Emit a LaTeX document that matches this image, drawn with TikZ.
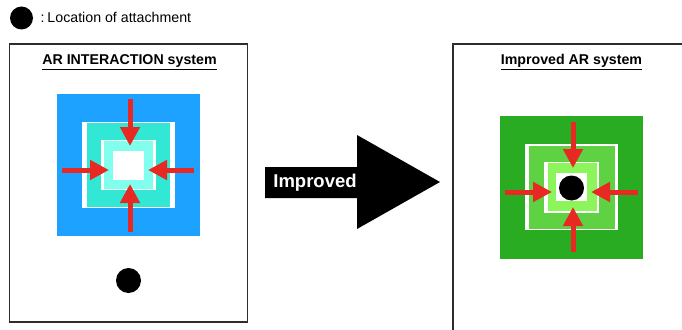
\documentclass[tikz,border=0pt]{standalone}
\usepackage{fontspec}
\setmainfont{Liberation Sans}
\usetikzlibrary{arrows.meta}

\definecolor{skyblue}{RGB}{30,162,255}
\definecolor{teal1}{RGB}{50,232,212}
\definecolor{teal2}{RGB}{128,255,238}
\definecolor{grn1}{RGB}{42,172,34}
\definecolor{grn2}{RGB}{95,210,68}
\definecolor{grn3}{RGB}{140,245,92}
\definecolor{arrowred}{RGB}{232,40,35}
\definecolor{framegray}{RGB}{45,45,45}

\tikzset{
  sq/.style={rectangle, inner sep=0pt, outer sep=0pt, draw=none},
  panel/.style={sq, draw=framegray, line width=1.5pt, fill=white},
  push/.style={draw=arrowred, line width=5pt,
    -{Triangle[length=19pt,width=19pt]}, arrowred},
  title/.style={font=\bfseries\fontsize{14.2}{17}\selectfont, anchor=base},
  dot/.style={circle, fill=black, inner sep=0pt},
}

\begin{document}
\begin{tikzpicture}[x=1pt, y=-1pt]
\useasboundingbox (0,0) rectangle (682,329);
\clip (0,0) rectangle (682,329);

% legend
\node[dot, minimum size=23pt] (legdot) at (21.5,18) {};
\node[anchor=base west, font=\fontsize{14.2}{17}\selectfont, inner sep=0pt]
  (legtext) at (40.5,23) {:\hspace{0.2em}Location of attachment};

% ---------- left panel ----------
\node[panel, minimum width=238pt, minimum height=278pt]
  (leftpanel) at (128.5,183) {};
\node[title] (lefttitle) at (129.5,64.5) {\underline{AR INTERACTION system}};

\node[sq, fill=skyblue, minimum width=143pt, minimum height=142pt] (lblue) at (128.5,165) {};
\node[sq, fill=white, minimum width=93pt, minimum height=86pt] (lframe) at (128.5,165) {};
\node[sq, fill=teal1, minimum width=83pt, minimum height=84pt] (lteal) at (128.5,165) {};
\node[sq, fill=white, minimum width=55pt, minimum height=50pt] (linframe) at (128.5,165) {};
\node[sq, fill=teal2, minimum width=49pt, minimum height=48pt] (lcyan) at (128.5,165) {};
\node[sq, fill=white, minimum width=31pt, minimum height=29pt] (lcore) at (128.5,165.5) {};

\coordinate (ltop) at (130,99);
\coordinate (lleft) at (62,170);
\coordinate (lright) at (194,170);
\coordinate (lbot) at (130,232);
\draw[push] (ltop) -- (130,146);
\draw[push] (lleft) -- (109,170);
\draw[push] (lright) -- (148,170);
\draw[push] (lbot) -- (130,184);

\node[dot, minimum size=25pt] (ldot) at (128.5,280.5) {};

% ---------- transition arrow ----------
\fill[black] (265,167) -- (357,167) -- (357,135) -- (440,182)
  -- (357,229) -- (357,198) -- (265,198) -- cycle;
\node[text=white, font=\bfseries\fontsize{18.5}{22}\selectfont, inner sep=0pt]
  (improved) at (315,183) {Improved};

% ---------- right panel ----------
\node[panel, anchor=north west, minimum width=260pt, minimum height=300pt]
  (rightpanel) at (453,44) {};
\node[title] (righttitle) at (571.5,64.5) {\underline{Improved AR system}};

\node[sq, fill=grn1, minimum width=143pt, minimum height=143pt] (rgreen) at (571.5,187.5) {};
\node[sq, fill=white, minimum width=93pt, minimum height=86pt] (rframe) at (571.5,187) {};
\node[sq, fill=grn2, minimum width=86pt, minimum height=83pt] (rmid) at (572,187.5) {};
\node[sq, fill=white, minimum width=55pt, minimum height=51pt] (rinframe) at (571.5,187.5) {};
\node[sq, fill=grn3, minimum width=49pt, minimum height=48pt] (rlight) at (572.5,187.3) {};
\node[sq, fill=white, minimum width=31pt, minimum height=28pt] (rcore) at (571.5,187) {};
\node[dot, minimum size=25pt] (rdot) at (571.5,188) {};

\coordinate (rtop) at (573,122);
\coordinate (rleft) at (505,192);
\coordinate (rright) at (638,192);
\coordinate (rbot) at (573,252);
\draw[push] (rtop) -- (573,168);
\draw[push] (rleft) -- (552,192);
\draw[push] (rright) -- (591,192);
\draw[push] (rbot) -- (573,207);
\end{tikzpicture}
\end{document}
